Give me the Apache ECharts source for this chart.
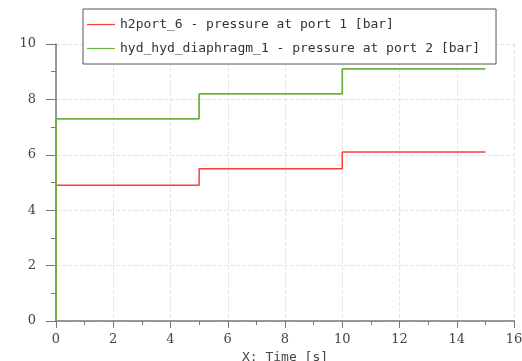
<!DOCTYPE html>
<html><head><meta charset="utf-8">
<script src="https://cdn.jsdelivr.net/npm/echarts@6/dist/echarts.min.js"></script>
<style>html,body{margin:0;padding:0;background:#fff}#c{width:522px;height:361px}</style>
</head><body><div id="c"></div>
<script>
const seriesNames = ['h2port_6 - pressure at port 1 [bar]', 'hyd_hyd_diaphragm_1 - pressure at port 2 [bar]'];
const times = [0, 0, 5, 5, 10, 10, 15];
const redValues = [0, 4.9, 4.9, 5.5, 5.5, 6.1, 6.1];
const greenValues = [0, 7.3, 7.3, 8.2, 8.2, 9.1, 9.1];
const xTicks = [0, 2, 4, 6, 8, 10, 12, 14, 16];
const yTicks = [0, 2, 4, 6, 8, 10];
const colors = ['#ff3b3b', '#6db33f'];

const chart = echarts.init(document.getElementById('c'));
const pair = (xs, ys) => xs.map((x, i) => [x, ys[i]]);
const axisFont = {fontFamily: 'DejaVu Serif', fontSize: 13, color: '#444'};
chart.setOption({
  animation: false,
  grid: {left: 56, right: 8, top: 44, bottom: 40, containLabel: false, outerBoundsMode: 'none'},
  legend: {
    orient: 'vertical', left: 83, top: 9,
    padding: [8, 16, 8, 4], itemGap: 9,
    itemWidth: 28, itemHeight: 1.2, icon: 'rect',
    borderColor: '#555', borderWidth: 1, backgroundColor: '#fff',
    textStyle: {fontFamily: 'DejaVu Sans Mono', fontSize: 13, color: '#333', lineHeight: 15},
    data: seriesNames
  },
  xAxis: {
    type: 'value', min: xTicks[0], max: xTicks[xTicks.length - 1], interval: 2,
    name: 'X: Time [s]', nameLocation: 'middle', nameGap: 28,
    nameTextStyle: {fontFamily: 'DejaVu Sans Mono', fontSize: 13, color: '#444'},
    axisLine: {onZero: false, lineStyle: {color: '#777', width: 1.5}},
    axisTick: {show: true, length: 7, lineStyle: {color: '#777'}},
    minorTick: {show: true, splitNumber: 2, length: 4, lineStyle: {color: '#777'}},
    axisLabel: Object.assign({margin: 12}, axisFont),
    splitLine: {show: true, lineStyle: {color: '#e4e4e4', type: 'dashed'}}
  },
  yAxis: {
    type: 'value', min: yTicks[0], max: yTicks[yTicks.length - 1], interval: 2,
    axisLine: {show: true, onZero: false, lineStyle: {color: '#777', width: 1.5}},
    axisTick: {show: true, length: 10, lineStyle: {color: '#777'}},
    minorTick: {show: true, splitNumber: 2, length: 5, lineStyle: {color: '#777'}},
    axisLabel: Object.assign({margin: 20}, axisFont),
    splitLine: {show: true, lineStyle: {color: '#e4e4e4', type: 'dashed'}}
  },
  series: [
    {name: seriesNames[0], type: 'line', data: pair(times, redValues), symbol: 'none',
     color: colors[0], lineStyle: {width: 1.5, color: colors[0]}},
    {name: seriesNames[1], type: 'line', data: pair(times, greenValues), symbol: 'none',
     color: colors[1], lineStyle: {width: 1.8, color: colors[1]}}
  ]
});
</script></body></html>
